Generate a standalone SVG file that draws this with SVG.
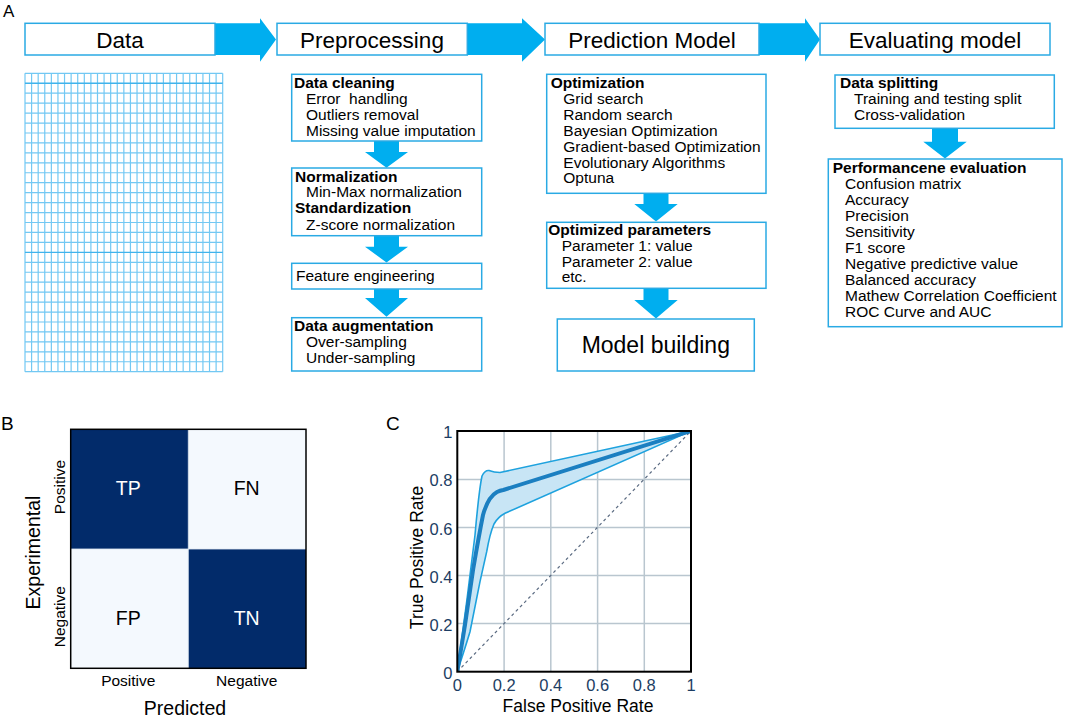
<svg xmlns="http://www.w3.org/2000/svg" width="1065" height="718" viewBox="0 0 1065 718">
<style>
text{font-family:"Liberation Sans",Arial,sans-serif;fill:#000}
.hdr{font-size:22.5px;text-anchor:middle}
.box{fill:#fff;stroke:#2aaae4;stroke-width:1.5}
.arr{fill:#00aeef}
.b{font-size:15.5px;font-weight:bold}
.t{font-size:15.5px}
.lbl{font-size:19.5px}
.tick{font-size:16.5px;fill:#1c3d63}
.cm{font-size:19.5px;text-anchor:middle}
</style>
<rect width="1065" height="718" fill="#fff"/>
<text x="3" y="17" style="font-size:17px">A</text>
<text x="1" y="430" style="font-size:19px">B</text>
<text x="386" y="430" style="font-size:19px">C</text>

<g id="connectors">
  <path class="arr" d="M215 23.3H260V18.3L276 39.5L260 61.7V55H215Z"/>
  <path class="arr" d="M467.3 23.3H522V18.3L545 39.5L522 61.7V55H467.3Z"/>
  <path class="arr" d="M759 23.3H805V18.3L820 39.5L805 61.7V55H759Z"/>
  <path class="arr" d="M374 141H399V152H408L386.5 167.7L365 152H374Z"/>
  <path class="arr" d="M374 235.7H399V246.7H408L386.5 262.5L365 246.7H374Z"/>
  <path class="arr" d="M374 289H399V298H408L386.5 316.7L365 298H374Z"/>
  <path class="arr" d="M643.5 193.3H668.5V204H677.7L656 221.5L634.3 204H643.5Z"/>
  <path class="arr" d="M643.5 288.3H668.5V300H677.7L656 318.5L634.3 300H643.5Z"/>
  <path class="arr" d="M932 128.3H958V141.7H966.7L945 158.5L923.3 141.7H932Z"/>
</g>

<g id="hdr-data"><rect class="box" x="25" y="23.3" width="190" height="31.7"/><text class="hdr" x="120" y="48.3">Data</text></g>
<g id="hdr-pre"><rect class="box" x="277" y="23.3" width="190.3" height="31.7"/><text class="hdr" x="372" y="48.3">Preprocessing</text></g>
<g id="hdr-pred"><rect class="box" x="545" y="23.3" width="214" height="31.7"/><text class="hdr" x="652" y="48.3">Prediction Model</text></g>
<g id="hdr-eval"><rect class="box" x="820" y="23.3" width="230" height="31.7"/><text class="hdr" x="935" y="48.3">Evaluating model</text></g>

<g id="data-grid">
  <path fill="none" stroke="#72c8f3" stroke-width="1.2" d="M25 73.3V371.7M31.59 73.3V371.7M38.18 73.3V371.7M44.77 73.3V371.7M51.36 73.3V371.7M57.95 73.3V371.7M64.54 73.3V371.7M71.13 73.3V371.7M77.72 73.3V371.7M84.31 73.3V371.7M90.9 73.3V371.7M97.49 73.3V371.7M104.08 73.3V371.7M110.67 73.3V371.7M117.26 73.3V371.7M123.85 73.3V371.7M130.44 73.3V371.7M137.03 73.3V371.7M143.62 73.3V371.7M150.21 73.3V371.7M156.8 73.3V371.7M163.39 73.3V371.7M169.98 73.3V371.7M176.57 73.3V371.7M183.16 73.3V371.7M189.75 73.3V371.7M196.34 73.3V371.7M202.93 73.3V371.7M209.52 73.3V371.7M216.11 73.3V371.7M222.7 73.3V371.7"/>
  <path fill="none" stroke="#72c8f3" stroke-width="1.2" d="M25 73.3H222.7M25 93.19H222.7M25 103.14H222.7M25 113.09H222.7M25 123.04H222.7M25 132.98H222.7M25 142.93H222.7M25 152.88H222.7M25 162.82H222.7M25 172.77H222.7M25 182.72H222.7M25 192.66H222.7M25 202.61H222.7M25 212.56H222.7M25 222.51H222.7M25 232.45H222.7M25 242.4H222.7M25 262.29H222.7M25 272.24H222.7M25 282.19H222.7M25 292.13H222.7M25 302.08H222.7M25 312.03H222.7M25 321.98H222.7M25 331.92H222.7M25 341.87H222.7M25 351.82H222.7M25 361.76H222.7M25 371.7H222.7"/>
  <path fill="none" stroke="#3fb3ec" stroke-width="1.3" d="M25 83.25H222.7M25 252.35H222.7"/>
</g>

<g id="pre-clean"><rect class="box" x="291.7" y="74.3" width="190" height="66.7"/>
  <text class="b" x="294" y="88.3">Data cleaning</text>
  <text class="t" x="306" y="104" xml:space="preserve">Error  handling</text>
  <text class="t" x="306" y="119.7">Outliers removal</text>
  <text class="t" x="306" y="135.5">Missing value imputation</text></g>
<g id="pre-norm"><rect class="box" x="291.7" y="168" width="190" height="67.7"/>
  <text class="b" x="295" y="181.7">Normalization</text>
  <text class="t" x="306" y="197.3">Min-Max normalization</text>
  <text class="b" x="295" y="213.3">Standardization</text>
  <text class="t" x="306" y="229.5">Z-score normalization</text></g>
<g id="pre-feat"><rect class="box" x="291.7" y="263.3" width="190" height="25.7"/>
  <text class="t" x="296" y="281">Feature engineering</text></g>
<g id="pre-aug"><rect class="box" x="291.7" y="317.7" width="190" height="53.3"/>
  <text class="b" x="294" y="331">Data augmentation</text>
  <text class="t" x="306" y="346.7">Over-sampling</text>
  <text class="t" x="306" y="362.7">Under-sampling</text></g>

<g id="pred-opt"><rect class="box" x="546.7" y="74.3" width="219.3" height="119"/>
  <text class="b" x="550.7" y="88.3">Optimization</text>
  <text class="t" x="563.3" y="104.3">Grid search</text>
  <text class="t" x="563.3" y="120">Random search</text>
  <text class="t" x="563.3" y="136">Bayesian Optimization</text>
  <text class="t" x="563.3" y="151.7">Gradient-based Optimization</text>
  <text class="t" x="563.3" y="167.7">Evolutionary Algorithms</text>
  <text class="t" x="563.3" y="183.3">Optuna</text></g>
<g id="pred-params"><rect class="box" x="546.7" y="222.3" width="219.3" height="66"/>
  <text class="b" x="548.3" y="235">Optimized parameters</text>
  <text class="t" x="561.7" y="250.5">Parameter 1: value</text>
  <text class="t" x="561.7" y="266.5">Parameter 2: value</text>
  <text class="t" x="561.7" y="282">etc.</text></g>
<g id="pred-build"><rect class="box" x="557.3" y="319" width="197" height="52"/>
  <text x="655.8" y="352.5" style="font-size:23px;text-anchor:middle">Model building</text></g>

<g id="eval-split"><rect class="box" x="835" y="75" width="219.3" height="53.3"/>
  <text class="b" x="840" y="88.3">Data splitting</text>
  <text class="t" x="854" y="104.3">Training and testing split</text>
  <text class="t" x="854" y="120">Cross-validation</text></g>
<g id="eval-perf"><rect class="box" x="828.3" y="159" width="233.7" height="167.7"/>
  <text class="b" x="832.7" y="172.5">Performancene evaluation</text>
  <text class="t" x="845" y="188.5">Confusion matrix</text>
  <text class="t" x="845" y="205">Accuracy</text>
  <text class="t" x="845" y="221">Precision</text>
  <text class="t" x="845" y="237">Sensitivity</text>
  <text class="t" x="845" y="253">F1 score</text>
  <text class="t" x="845" y="269">Negative predictive value</text>
  <text class="t" x="845" y="285">Balanced accuracy</text>
  <text class="t" x="845" y="301">Mathew Correlation Coefficient</text>
  <text class="t" x="845" y="317">ROC Curve and AUC</text></g>

<g id="confusion-matrix">
  <rect x="70.7" y="429.3" width="235.3" height="239" fill="#f4f9fe"/>
  <rect x="70.7" y="429.3" width="117.6" height="119.7" fill="#022b6a"/>
  <rect x="188.3" y="549" width="117.7" height="119.3" fill="#022b6a"/>
  <path d="M188.3 429.3V668.3M70.7 549H306" stroke="#dfe8f2" stroke-width="0.8" fill="none"/>
  <rect x="70.7" y="429.3" width="235.3" height="239" fill="none" stroke="#000" stroke-width="1.5"/>
  <text class="cm" x="128.3" y="495" style="fill:#fff">TP</text>
  <text class="cm" x="246.7" y="495">FN</text>
  <text class="cm" x="128.3" y="625">FP</text>
  <text class="cm" x="246.7" y="625" style="fill:#fff">TN</text>
  <text x="65" y="487" transform="rotate(-90 65 487)" style="font-size:15.5px;text-anchor:middle">Positive</text>
  <text x="65" y="616.7" transform="rotate(-90 65 616.7)" style="font-size:15.5px;text-anchor:middle">Negative</text>
  <text x="39.5" y="552.5" transform="rotate(-90 39.5 552.5)" class="lbl" style="text-anchor:middle">Experimental</text>
  <text x="128.3" y="686" style="font-size:15.5px;text-anchor:middle">Positive</text>
  <text x="246.7" y="686" style="font-size:15.5px;text-anchor:middle">Negative</text>
  <text x="185" y="715" class="lbl" style="text-anchor:middle">Predicted</text>
</g>

<g id="roc">
  <defs><clipPath id="pc"><rect x="457.3" y="431" width="233.7" height="240.7"/></clipPath></defs>
  <path fill="none" stroke="#b9c6cf" stroke-width="1.5" d="M504.1 431V671.7M550.8 431V671.7M597.6 431V671.7M644.3 431V671.7M457.3 479.4H691M457.3 527.5H691M457.3 575.6H691M457.3 623.6H691"/>
  <g clip-path="url(#pc)">
    <path fill="#c8e5f5" d="M457.3 671.7L466.7 601.7L475 535Q479 490 482 476Q485 470 489 470.5Q494 472.5 500 472.5L691 431L505 513.3Q498 517 494 524Q490 533 486.7 551.7L480 581.7L470 631.7Q466 645 457.3 671.7Z"/>
    <path fill="none" stroke="#5b6b82" stroke-width="1.2" stroke-dasharray="3 3" d="M457.3 671.7L691 431"/>
    <path fill="none" stroke="#1ea2de" stroke-width="1.6" d="M457.3 671.7L466.7 601.7L475 535Q479 490 482 476Q485 470 489 470.5Q494 472.5 500 472.5L691 431"/>
    <path fill="none" stroke="#1ea2de" stroke-width="1.6" d="M457.3 671.7Q466 645 470 631.7L480 581.7L486.7 551.7Q490 533 494 524Q498 517 505 513.3L691 431"/>
    <path fill="none" stroke="#1b7fc1" stroke-width="4" stroke-linejoin="round" d="M457.3 671.7L465 625L473.3 568.3Q479 535 483 515Q488 497 497 492Q500 490.5 503.3 490L691 431"/>
  </g>
  <rect x="457.3" y="431" width="233.7" height="240.7" fill="none" stroke="#000" stroke-width="2"/>
  <g style="text-anchor:end">
    <text class="tick" x="452.5" y="438">1</text>
    <text class="tick" x="452.5" y="486.4">0.8</text>
    <text class="tick" x="452.5" y="534.5">0.6</text>
    <text class="tick" x="452.5" y="582.6">0.4</text>
    <text class="tick" x="452.5" y="630.6">0.2</text>
    <text class="tick" x="452.5" y="678.7">0</text>
  </g>
  <g style="text-anchor:middle">
    <text class="tick" x="457.3" y="690.5">0</text>
    <text class="tick" x="504.1" y="690.5">0.2</text>
    <text class="tick" x="550.8" y="690.5">0.4</text>
    <text class="tick" x="597.6" y="690.5">0.6</text>
    <text class="tick" x="644.3" y="690.5">0.8</text>
    <text class="tick" x="691" y="690.5">1</text>
  </g>
  <text x="578" y="711.5" style="font-size:17.5px;text-anchor:middle">False Positive Rate</text>
  <text x="423" y="557.5" transform="rotate(-90 423 557.5)" style="font-size:17.5px;text-anchor:middle">True Positive Rate</text>
</g>
</svg>
